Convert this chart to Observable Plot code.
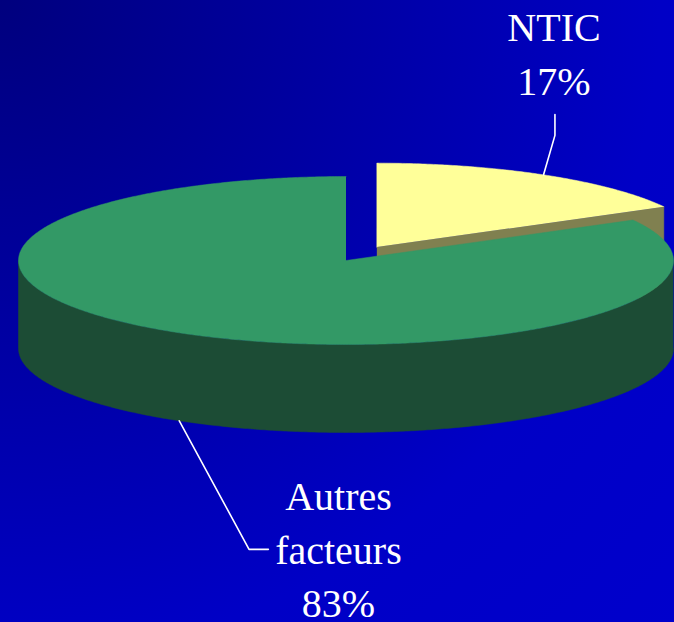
<!DOCTYPE html>
<html><head><meta charset="utf-8">
<script src="https://cdn.jsdelivr.net/npm/d3@7"></script>
<script src="https://cdn.jsdelivr.net/npm/@observablehq/plot@0.6"></script>
<style>
html,body{margin:0;padding:0;}
body{width:674px;height:622px;overflow:hidden;background:radial-gradient(circle at 0 0,#00007e 0px,#0000c6 660px,#0000cc 920px);}
svg{display:block;}
</style></head><body>
<script>
// ---- data ----
const categories = ["NTIC", "Autres facteurs"];
const shares = [17, 83];
const labelLines = [["NTIC", "17%"], ["Autres", "facteurs", "83%"]];
const topColors = ["#ffff99", "#339966"];
const sideColors = ["#808050", "#1c4c35"];
const explode = [0.185, 0];

// ---- layout (positions in pie-radius units) ----
const W = 674, H = 622;
const CX = 345.5, CY = 260, R = 327.5;
const TILT = 84 / 327.5, DEPTH = 88 / 327.5;
const labelPos = [{x: 0.635, y: -0.506}, {x: -0.023, y: 1.090}];
const leaderBends = [
  [{x: 0.638, y: -0.382}, {x: 0.638, y: -0.446}],
  [{x: -0.296, y: 0.882}, {x: -0.237, y: 0.882}]
];

const total = d3.sum(shares);
let acc = 0;
const slices = shares.map((v, i) => {
  const s = acc / total * 2 * Math.PI; acc += v;
  const e = acc / total * 2 * Math.PI; const m = (s + e) / 2;
  return {i, s, e, m, ox: explode[i] * Math.sin(m), oy: -explode[i] * TILT * Math.cos(m)};
});
const pt = (sl, a, down = 0) => ({x: sl.ox + Math.sin(a), y: sl.oy - TILT * Math.cos(a) + down});
function arc(sl, a0, a1, down = 0) {
  const n = Math.max(2, Math.ceil(Math.abs(a1 - a0) / (Math.PI / 360)));
  return d3.range(n + 1).map(k => pt(sl, a0 + (a1 - a0) * k / n, down));
}

const marks = [];
// draw back slices first (sorted by exploded offset: more "back" first)
const order = slices.slice().sort((a, b) => a.oy - b.oy);
for (const sl of order) {
  const apex = {x: sl.ox, y: sl.oy};
  const apexB = {x: sl.ox, y: sl.oy + DEPTH};
  // start face
  if (Math.sin(sl.s) < -1e-6) {
    const poly = [apex, pt(sl, sl.s), pt(sl, sl.s, DEPTH), apexB];
    marks.push(Plot.line(poly, {x: "x", y: "y", fill: sideColors[sl.i], stroke: sideColors[sl.i], strokeWidth: 0.5}));
  }
  // end face
  if (Math.sin(sl.e) > 1e-6) {
    const poly = [apex, pt(sl, sl.e), pt(sl, sl.e, DEPTH), apexB];
    marks.push(Plot.line(poly, {x: "x", y: "y", fill: sideColors[sl.i], stroke: sideColors[sl.i], strokeWidth: 0.5}));
  }
  // outer wall (front half)
  const a0 = Math.max(sl.s, Math.PI / 2), a1 = Math.min(sl.e, 3 * Math.PI / 2);
  if (a1 > a0) {
    const poly = [...arc(sl, a0, a1), ...arc(sl, a1, a0, DEPTH)];
    marks.push(Plot.line(poly, {x: "x", y: "y", fill: sideColors[sl.i], stroke: sideColors[sl.i], strokeWidth: 0.5}));
  }
  // top face
  const topPoly = [apex, ...arc(sl, sl.s, sl.e)];
  marks.push(Plot.line(topPoly, {x: "x", y: "y", fill: topColors[sl.i], stroke: topColors[sl.i], strokeWidth: 0.5}));
}

// leader lines
const leaders = [];
slices.forEach((sl, i) => {
  const start = Math.cos(sl.m) > 0 ? pt(sl, sl.m) : pt(sl, sl.m, DEPTH);
  [start, ...leaderBends[i]].forEach(p => leaders.push({...p, k: categories[i]}));
});
marks.push(Plot.line(leaders, {x: "x", y: "y", z: "k", stroke: "white", strokeWidth: 1.6, fill: "none"}));

// labels
const labels = labelLines.map((lines, i) => ({...labelPos[i], text: lines.join("\n")}));
marks.push(Plot.text(labels, {
  x: "x", y: "y", text: "text", lineAnchor: "bottom", lineHeight: 1.34,
  fontSize: 40, fontFamily: "Liberation Serif", fill: "white", textAnchor: "middle"
}));

const chart = Plot.plot({
  width: W, height: H, margin: 0,
  style: {background: "transparent", overflow: "visible"},
  x: {domain: [-CX / R, (W - CX) / R], range: [0, W], axis: null},
  y: {domain: [-CY / R, (H - CY) / R], range: [0, H], axis: null},
  marks
});
document.body.appendChild(chart);
</script>
</body></html>
